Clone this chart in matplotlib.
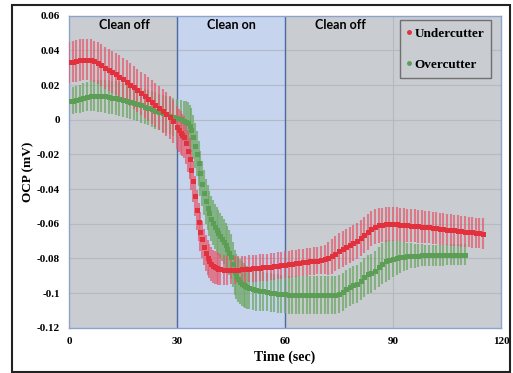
import numpy as np
import matplotlib
matplotlib.use("Agg")
from matplotlib import pyplot as plt
from matplotlib.patches import Rectangle

# time in seconds: 1 s readings, 0.5 s through the fast drop
t_under = np.r_[0:30, 30:42:0.5, 42:116]
t_over = np.r_[0:32, 32:50:0.5, 50:111]

under_mean = [
    0.0330, 0.0335, 0.0340, 0.0344, 0.0347, 0.0347, 0.0343, 0.0336, 0.0326, 0.0314,
    0.0301, 0.0289, 0.0276, 0.0262, 0.0248, 0.0234, 0.0219, 0.0203, 0.0187, 0.0170,
    0.0153, 0.0136, 0.0119, 0.0102, 0.0085, 0.0068, 0.0050, 0.0032, 0.0013, -0.0010,
    # 30 .. 41.5 every 0.5 s
    -0.0045, -0.0060, -0.0075, -0.0088, -0.0100, -0.0135, -0.0180, -0.0225, -0.0290, -0.0355,
    -0.0440, -0.0520, -0.0590, -0.0645, -0.0690, -0.0735, -0.0770, -0.0795, -0.0815, -0.0832,
    -0.0845, -0.0852, -0.0858, -0.0861,
    # 42 .. 115
    -0.0864, -0.0867, -0.0868, -0.0868, -0.0867, -0.0866, -0.0864, -0.0862,
    -0.0860, -0.0858, -0.0856, -0.0854, -0.0852, -0.0850, -0.0848, -0.0846, -0.0843, -0.0840,
    -0.0837, -0.0834, -0.0832, -0.0829, -0.0826, -0.0823, -0.0821, -0.0818, -0.0816, -0.0813,
    -0.0810, -0.0806, -0.0800, -0.0788, -0.0772, -0.0757, -0.0744, -0.0733, -0.0722, -0.0710,
    -0.0698, -0.0684, -0.0667, -0.0648, -0.0630, -0.0617, -0.0610, -0.0606, -0.0604, -0.0603,
    -0.0603, -0.0604, -0.0605, -0.0607, -0.0609, -0.0611, -0.0613, -0.0615, -0.0617, -0.0619,
    -0.0621, -0.0624, -0.0626, -0.0629, -0.0631, -0.0634, -0.0636, -0.0638, -0.0641, -0.0643,
    -0.0645, -0.0648, -0.0650, -0.0653, -0.0655, -0.0658,
]
under_err = [
    0.0120, 0.0120, 0.0120, 0.0120, 0.0120, 0.0120, 0.0120, 0.0120, 0.0120, 0.0120,
    0.0121, 0.0121, 0.0122, 0.0122, 0.0123, 0.0123, 0.0124, 0.0124, 0.0125, 0.0125,
    0.0125, 0.0125, 0.0125, 0.0125, 0.0125, 0.0125, 0.0125, 0.0125, 0.0125, 0.0125,
    # 30 .. 41.5 every 0.5 s
    0.0124, 0.0124, 0.0123, 0.0123, 0.0122, 0.0121, 0.0120, 0.0119, 0.0118, 0.0117,
    0.0115, 0.0114, 0.0112, 0.0110, 0.0108, 0.0106, 0.0104, 0.0102, 0.0100, 0.0098,
    0.0096, 0.0094, 0.0092, 0.0090,
    # 42 .. 115
    0.0089, 0.0086, 0.0083, 0.0081, 0.0079, 0.0078, 0.0078, 0.0078,
    0.0078, 0.0078, 0.0078, 0.0078, 0.0078, 0.0078, 0.0078, 0.0078, 0.0078, 0.0078,
    0.0078, 0.0078, 0.0078, 0.0078, 0.0078, 0.0078, 0.0078, 0.0079, 0.0079, 0.0080,
    0.0080, 0.0085, 0.0095, 0.0102, 0.0103, 0.0104, 0.0104, 0.0105, 0.0105, 0.0105,
    0.0104, 0.0104, 0.0103, 0.0102, 0.0101, 0.0100, 0.0100, 0.0099, 0.0099, 0.0098,
    0.0098, 0.0098, 0.0097, 0.0097, 0.0096, 0.0096, 0.0095, 0.0095, 0.0094, 0.0094,
    0.0093, 0.0093, 0.0092, 0.0092, 0.0091, 0.0091, 0.0090, 0.0090, 0.0090, 0.0089,
    0.0089, 0.0089, 0.0088, 0.0088, 0.0088, 0.0088,
]

over_mean = [
    0.0105, 0.0110, 0.0116, 0.0122, 0.0128, 0.0133, 0.0136, 0.0138, 0.0138, 0.0137,
    0.0135, 0.0131, 0.0127, 0.0123, 0.0118, 0.0113, 0.0108, 0.0102, 0.0096, 0.0090,
    0.0083, 0.0076, 0.0069, 0.0061, 0.0053, 0.0045, 0.0037, 0.0030, 0.0023, 0.0016,
    0.0010, 0.0003,
    # 32 .. 49.5 every 0.5 s
    -0.0006, -0.0012, -0.0020, -0.0035, -0.0060, -0.0100, -0.0150, -0.0195, -0.0250, -0.0310,
    -0.0370, -0.0420, -0.0470, -0.0508, -0.0540, -0.0570, -0.0595, -0.0617, -0.0635, -0.0652,
    -0.0670, -0.0688, -0.0705, -0.0725, -0.0745, -0.0768, -0.0790, -0.0835, -0.0880, -0.0902,
    -0.0920, -0.0934, -0.0945, -0.0954, -0.0962, -0.0968,
    # 50 .. 110
    -0.0972, -0.0979, -0.0984, -0.0988, -0.0991, -0.0994, -0.0997, -0.1000, -0.1003, -0.1006,
    -0.1008, -0.1009, -0.1010, -0.1010, -0.1010, -0.1010, -0.1010, -0.1010, -0.1010, -0.1010,
    -0.1010, -0.1010, -0.1010, -0.1010, -0.1010, -0.1008, -0.0995, -0.0978, -0.0965, -0.0955,
    -0.0946, -0.0930, -0.0910, -0.0893, -0.0885, -0.0870, -0.0850, -0.0830, -0.0815, -0.0808,
    -0.0802, -0.0797, -0.0793, -0.0790, -0.0788, -0.0786, -0.0785, -0.0784, -0.0783, -0.0783,
    -0.0782, -0.0782, -0.0781, -0.0781, -0.0781, -0.0780, -0.0780, -0.0780, -0.0780, -0.0780,
    -0.0780,
]
over_err = [
    0.0075, 0.0077, 0.0079, 0.0081, 0.0083, 0.0085, 0.0087, 0.0089, 0.0091, 0.0093,
    0.0095, 0.0096, 0.0097, 0.0098, 0.0099, 0.0100, 0.0100, 0.0100, 0.0100, 0.0100,
    0.0100, 0.0101, 0.0102, 0.0103, 0.0104, 0.0105, 0.0106, 0.0107, 0.0108, 0.0109,
    0.0110, 0.0112,
    # 32 .. 49.5 every 0.5 s
    0.0115, 0.0118, 0.0120, 0.0122, 0.0125, 0.0128, 0.0130, 0.0130, 0.0130, 0.0130,
    0.0130, 0.0130, 0.0130, 0.0130, 0.0130, 0.0130, 0.0130, 0.0130, 0.0130, 0.0130,
    0.0130, 0.0130, 0.0130, 0.0130, 0.0130, 0.0130, 0.0130, 0.0130, 0.0130, 0.0130,
    0.0130, 0.0130, 0.0128, 0.0127, 0.0125, 0.0123,
    # 50 .. 110
    0.0122, 0.0120, 0.0118, 0.0116, 0.0114, 0.0112, 0.0111, 0.0110, 0.0110, 0.0110,
    0.0110, 0.0110, 0.0110, 0.0110, 0.0110, 0.0110, 0.0110, 0.0110, 0.0110, 0.0110,
    0.0110, 0.0110, 0.0110, 0.0110, 0.0110, 0.0110, 0.0110, 0.0110, 0.0110, 0.0110,
    0.0110, 0.0110, 0.0111, 0.0112, 0.0113, 0.0115, 0.0118, 0.0120, 0.0120, 0.0115,
    0.0108, 0.0100, 0.0092, 0.0085, 0.0078, 0.0072, 0.0068, 0.0065, 0.0063, 0.0062,
    0.0061, 0.0061, 0.0061, 0.0061, 0.0061, 0.0061, 0.0061, 0.0061, 0.0061, 0.0061,
    0.0061,
]

phase_edges = [0, 30, 60, 120]
phase_names = ["Clean off", "Clean on", "Clean off"]
phase_label_x = [15.5, 45, 75.5]

x_ticks = [0, 30, 60, 90, 120]
y_ticks = [0.06, 0.04, 0.02, 0, -0.02, -0.04, -0.06, -0.08, -0.1, -0.12]

gray_bg = "#c9ccd1"
blue_bg = "#c6d4ee"

fig = plt.figure(figsize=(5.13, 3.73), dpi=100)
ax = fig.add_axes([69 / 513, 45.3 / 373, 432 / 513, 312 / 373])
ax.set_facecolor(gray_bg)

# shaded phases
ax.axvspan(phase_edges[1], phase_edges[2], color=blue_bg, zorder=0, lw=0)
for xv in x_ticks[1:-1]:
    ax.axvline(xv, color="#b5bac2", lw=0.8, zorder=0.5)
for yv in y_ticks[1:-1]:
    ax.axhline(yv, color="#b5bac2", lw=0.8, zorder=0.5)
ax.axvline(phase_edges[1], color="#4d6aa5", lw=1.0, zorder=0.6)
ax.axvline(phase_edges[2], color="#4d6aa5", lw=1.0, zorder=0.6)

# error bars
ax.errorbar(t_over, over_mean, yerr=over_err, fmt="none", ecolor="#6ea866",
            elinewidth=1.5, alpha=0.75, capsize=0, zorder=2)
ax.errorbar(t_under, under_mean, yerr=under_err, fmt="none", ecolor="#e4566a",
            elinewidth=1.5, alpha=0.7, capsize=0, zorder=3)

# means
ax.plot(t_over, over_mean, ls="none", marker="s", ms=3.6, mew=0,
        color="#5c9e55", zorder=4)
ax.plot(t_under, under_mean, ls="none", marker="s", ms=3.6, mew=0,
        color="#e2303d", zorder=5)

for name, xp in zip(phase_names, phase_label_x):
    ax.text(xp, 0.0545, name, ha="center", va="center", fontsize=9,
            fontweight="bold", family="Lato", color="black")

ax.set_xlim(0, 120)
ax.set_ylim(-0.12, 0.06)
ax.set_xticks(x_ticks)
ax.set_yticks(y_ticks)
ax.set_yticklabels(["0.06", "0.04", "0.02", "0", "-0.02", "-0.04", "-0.06",
                    "-0.08", "-0.1", "-0.12"])
ax.tick_params(axis="y", length=0, labelsize=8, pad=6.5)
ax.tick_params(axis="x", length=0, labelsize=8, pad=7)
for lab in ax.get_xticklabels() + ax.get_yticklabels():
    lab.set_fontfamily("Liberation Serif")
    lab.set_fontweight("bold")
for sp in ax.spines.values():
    sp.set_color("#8ea3cc")
    sp.set_linewidth(1.0)

ax.set_xlabel("Time (sec)", fontsize=10, fontweight="bold",
              family="Liberation Serif", labelpad=3)
ax.set_ylabel("OCP (mV)", fontsize=9.5, fontweight="bold",
              family="Liberation Serif", labelpad=2)

h1, = ax.plot([], [], ls="none", marker="o", ms=2.5, color="#e2303d")
h2, = ax.plot([], [], ls="none", marker="o", ms=2.5, color="#5c9e55")
leg = ax.legend([h1, h2], ["Undercutter", "Overcutter"], loc="upper right",
                bbox_to_anchor=(0.978, 0.986), borderaxespad=0, frameon=True,
                fancybox=False,
                prop={"family": "Liberation Serif", "weight": "bold", "size": 9.5},
                handlelength=0.3, handletextpad=0.25, labelspacing=1.45,
                borderpad=0.55)
leg.get_frame().set_facecolor(gray_bg)
leg.get_frame().set_edgecolor("#707070")
leg.get_frame().set_linewidth(1.0)
leg.get_frame().set_alpha(1)

# outer frame around the figure
fig.patches.append(Rectangle((12 / 513, 1 / 373), 498 / 513, 367 / 373,
                             transform=fig.transFigure, fill=False,
                             edgecolor="#222222", lw=1.5))

fig.savefig("out.png", dpi=100)
